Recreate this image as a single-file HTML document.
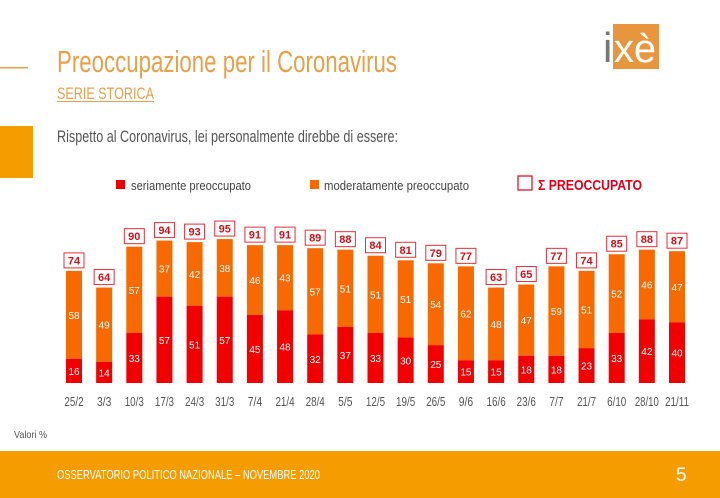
<!DOCTYPE html>
<html><head><meta charset="utf-8"><style>
html,body{margin:0;padding:0;background:#fff;}
svg{display:block;}
text{font-family:"Liberation Sans Narrow","Liberation Sans",sans-serif;}
</style></head><body>
<svg id="s" width="720" height="498" viewBox="0 0 720 498" xmlns="http://www.w3.org/2000/svg">
<rect x="0" y="67" width="28" height="1.5" fill="#e8a04a"/>
<rect x="0" y="126" width="33" height="52" fill="#f59c00"/>
<text x="57" y="72" font-size="31" fill="#e8a04a" textLength="340" lengthAdjust="spacingAndGlyphs">Preoccupazione per il Coronavirus</text>
<text x="57" y="99" font-size="17" fill="#e8a04a" textLength="97" lengthAdjust="spacingAndGlyphs">SERIE STORICA</text>
<rect x="57" y="101" width="97" height="1" fill="#e8a04a"/>
<text x="57" y="142" font-size="17" fill="#555" textLength="341" lengthAdjust="spacingAndGlyphs">Rispetto al Coronavirus, lei personalmente direbbe di essere:</text>
<rect x="116" y="180" width="9" height="9" fill="#ee0000"/>
<text x="131" y="190" font-size="13" fill="#444" textLength="120" lengthAdjust="spacingAndGlyphs">seriamente preoccupato</text>
<rect x="310" y="180" width="9" height="9" fill="#f86a00"/>
<text x="324" y="190" font-size="13" fill="#444" textLength="145" lengthAdjust="spacingAndGlyphs">moderatamente preoccupato</text>
<rect x="518" y="176" width="14" height="14" fill="none" stroke="#e0001a" stroke-width="1.2"/>
<text x="538" y="190" font-size="15" font-weight="bold" fill="#e0001a" textLength="104" lengthAdjust="spacingAndGlyphs">Σ PREOCCUPATO</text>
<rect x="613" y="24" width="46" height="45" fill="#e8963e"/>
<text x="603" y="62" font-size="42" font-family="Liberation Serif,serif" fill="#777">i</text>
<text x="614" y="62" font-size="40" font-family="Liberation Serif,serif" fill="#fff" textLength="42" lengthAdjust="spacingAndGlyphs">xè</text>
<text x="14" y="438" font-size="10" fill="#555" textLength="33" lengthAdjust="spacingAndGlyphs">Valori %</text>
<rect x="0" y="451" width="720" height="47" fill="#f59c00"/>
<text x="57" y="479" font-size="13" fill="#fff" textLength="263" lengthAdjust="spacingAndGlyphs">OSSERVATORIO POLITICO NAZIONALE – NOVEMBRE 2020</text>
<text x="676" y="481" font-size="19" fill="#fff">5</text>
<g id="bars"></g>
</svg>
<script>
(function(){
var L=["25/2","3/3","10/3","17/3","24/3","31/3","7/4","21/4","28/4","5/5","12/5","19/5","26/5","9/6","16/6","23/6","7/7","21/7","6/10","28/10","21/11"];
var R=[16,14,33,57,51,57,45,48,32,37,33,30,25,15,15,18,18,23,33,42,40];
var O=[58,49,57,37,42,38,46,43,57,51,51,51,54,62,48,47,59,51,52,46,47];
var T=[74,64,90,94,93,95,91,91,89,88,84,81,79,77,63,65,77,74,85,88,87];
var k=1.515,b=383,h="";
for(var i=0;i<21;i++){
 var cx=74+30.15*i,rh=R[i]*k,th=(R[i]+O[i])*k,tp=b-th,rt=b-rh;
 h+='<rect x="'+(cx-8)+'" y="'+tp+'" width="16" height="'+(th-rh)+'" fill="#f86a00"/>';
 h+='<rect x="'+(cx-8)+'" y="'+rt+'" width="16" height="'+rh+'" fill="#f20000"/>';
 h+='<text x="'+cx+'" y="'+(rt+rh/2+4)+'" font-size="10" fill="#fff" text-anchor="middle" font-family="DejaVu Sans,sans-serif">'+R[i]+'</text>';
 h+='<text x="'+cx+'" y="'+(tp+(th-rh)/2+4)+'" font-size="10" fill="#fff" text-anchor="middle" font-family="DejaVu Sans,sans-serif">'+O[i]+'</text>';
 h+='<rect x="'+(cx-10)+'" y="'+(tp-18)+'" width="20" height="15" fill="#fff" stroke="#e0303a" stroke-width="1"/>';
 h+='<text x="'+cx+'" y="'+(tp-6.5)+'" font-size="11" font-weight="bold" fill="#d0101a" text-anchor="middle" font-family="DejaVu Sans,sans-serif">'+T[i]+'</text>';
 h+='<text x="'+cx+'" y="406" font-size="13" fill="#555" text-anchor="middle" textLength="'+(L[i].length*4.8)+'" lengthAdjust="spacingAndGlyphs">'+L[i]+'</text>';
}
document.getElementById("bars").innerHTML=h;
})();
</script>
</body></html>
